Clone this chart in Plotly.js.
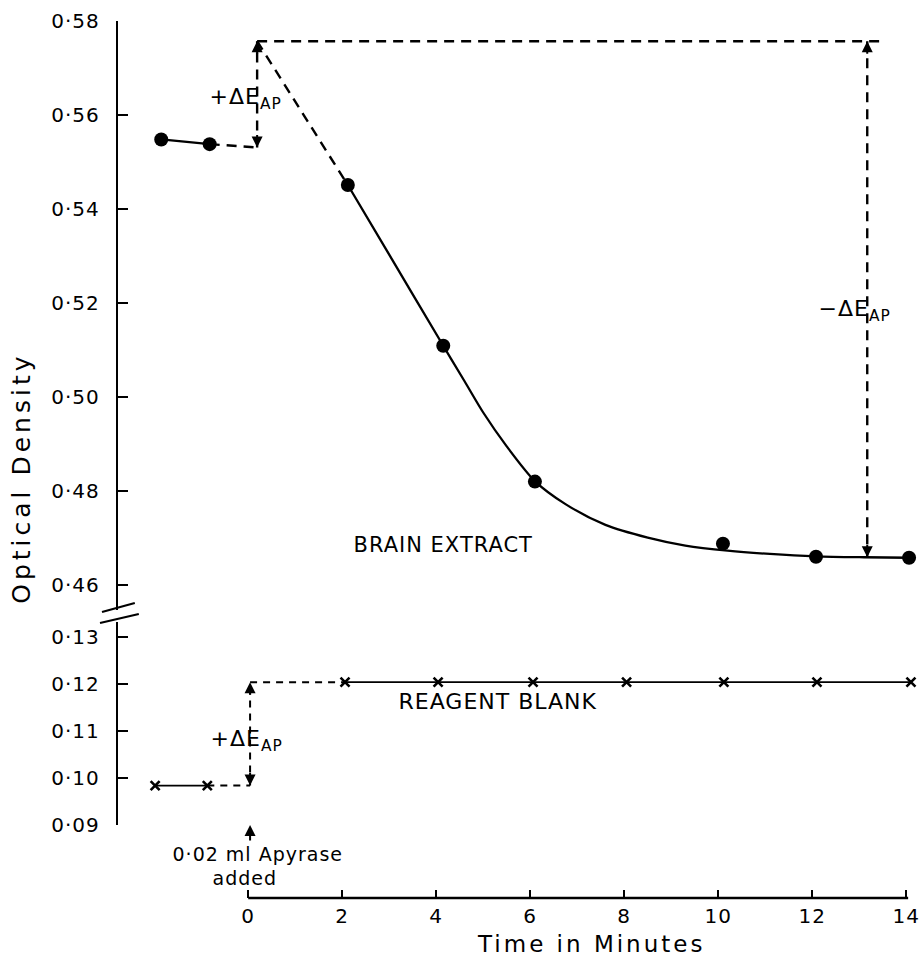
<!DOCTYPE html>
<html>
<head>
<meta charset="utf-8">
<script src="https://cdn.plot.ly/plotly-3.0.1.min.js"></script>
<style>
html,body{margin:0;padding:0;background:#fff;}
#chart{width:923px;height:961px;}
#chart text{letter-spacing:1px;}
</style>
</head>
<body>
<div id="chart"></div>
<script>
// ---- data ----
const brainPreX = [-1.85, -0.82];
const brainPreY = [0.5548, 0.5538];
const brainX = [2.12, 4.15, 6.1, 10.1, 12.08, 14.06];
const brainY = [0.5451, 0.5109, 0.4820, 0.4688, 0.4660, 0.4658];
// hand-drawn fitted curve
const fitX = [2.12, 3.0, 4.15, 4.6, 5.0, 5.5, 6.1, 6.75, 7.6, 8.5, 9.3, 10.2, 11.1, 12.08, 13.1, 14.06];
const fitY = [0.5451, 0.5303, 0.5109, 0.5034, 0.4967, 0.4895, 0.4821, 0.4772, 0.4728, 0.4701, 0.4684, 0.4673, 0.4666, 0.4661, 0.4659, 0.4658];

const reagPreX = [-1.98, -0.87];
const reagPreY = [0.0984, 0.0984];
const reagX = [2.06, 4.04, 6.06, 8.05, 10.12, 12.1, 14.1];
const reagY = [0.1204, 0.1204, 0.1204, 0.1204, 0.1204, 0.1204, 0.1204];

// delta-E construction levels
const addTimeTop = 0.19, addTimeBottom = 0.04, readTime = 13.17, guideEnd = 13.45;
const topBase = 0.5531, topPeak = 0.5757, topPlateau = 0.4659;
const botBase = 0.0984, botStep = 0.1204;

// tick labels
const topTickVals = [0.46, 0.48, 0.50, 0.52, 0.54, 0.56, 0.58];
const topTickText = ['0·46', '0·48', '0·50', '0·52', '0·54', '0·56', '0·58'];
const botTickVals = [0.09, 0.10, 0.11, 0.12, 0.13];
const botTickText = ['0·09', '0·10', '0·11', '0·12', '0·13'];
const xTickVals = [0, 2, 4, 6, 8, 10, 12, 14];
const xTickText = ['0', '2', '4', '6', '8', '10', '12', '14'];

// ---- traces ----
const blk = '#000';
const dashPat = '10px,7px';
const traces = [
  {x: fitX, y: fitY, mode: 'lines', line: {color: blk, width: 2.3, shape: 'spline', smoothing: 0.8}, xaxis: 'x', yaxis: 'y', hoverinfo: 'skip'},
  {x: brainPreX, y: brainPreY, mode: 'lines+markers', line: {color: blk, width: 2.3}, marker: {color: blk, size: 14}, xaxis: 'x', yaxis: 'y'},
  {x: brainX, y: brainY, mode: 'markers', marker: {color: blk, size: 14}, xaxis: 'x', yaxis: 'y'},
  // dashed construction lines, top panel
  {x: [brainPreX[1], addTimeTop, null, addTimeTop, addTimeTop, null, addTimeTop, brainX[0], null, addTimeTop, guideEnd, null, readTime, readTime],
   y: [brainPreY[1], topBase, null, topBase, topPeak, null, topPeak, brainY[0], null, topPeak, topPeak, null, topPeak, topPlateau],
   mode: 'lines', line: {color: blk, width: 2.4, dash: dashPat}, xaxis: 'x', yaxis: 'y', connectgaps: false},
  // reagent blank
  {x: reagPreX, y: reagPreY, mode: 'lines+markers', line: {color: blk, width: 1.8}, marker: {color: blk, size: 9, symbol: 'x-thin', line: {color: blk, width: 2.6}}, xaxis: 'x', yaxis: 'y2'},
  {x: reagX, y: reagY, mode: 'lines+markers', line: {color: blk, width: 1.8}, marker: {color: blk, size: 9, symbol: 'x-thin', line: {color: blk, width: 2.6}}, xaxis: 'x', yaxis: 'y2'},
  {x: [reagPreX[1], addTimeBottom, null, addTimeBottom, addTimeBottom, null, addTimeBottom, reagX[0]],
   y: [reagPreY[1], botBase, null, botBase, botStep, null, botStep, reagY[0]],
   mode: 'lines', line: {color: blk, width: 2, dash: '7px,6px'}, xaxis: 'x', yaxis: 'y2'}
];

const F = 'DejaVu Sans';
function arrow(x, y, xref, yref, ay) {
  return {x: x, y: y, xref: xref, yref: yref, text: '', showarrow: true, arrowhead: 2, arrowsize: 1.1, arrowwidth: 2, arrowcolor: blk, ax: 0, ay: ay};
}
function label(x, y, xref, yref, text, size) {
  return {x: x, y: y, xref: xref, yref: yref, xanchor: 'center', yanchor: 'middle', text: text, showarrow: false, font: {family: F, size: size, color: blk}};
}

const annotations = [
  arrow(addTimeTop, topPeak, 'x', 'y', 14),
  arrow(addTimeTop, topBase, 'x', 'y', -14),
  arrow(readTime, topPeak, 'x', 'y', 14),
  arrow(readTime, topPlateau, 'x', 'y', -14),
  arrow(addTimeBottom, botStep, 'x', 'y2', 14),
  arrow(addTimeBottom, botBase, 'x', 'y2', -14),
  arrow(addTimeBottom, 0.0832, 'x', 'paper', 17),
  label(-0.06, 0.5636, 'x', 'y', '+ΔE<sub>AP</sub>', 22),
  label(12.9, 0.5185, 'x', 'y', '−ΔE<sub>AP</sub>', 22),
  label(4.15, 0.4685, 'x', 'y', 'BRAIN EXTRACT', 21),
  label(5.32, 0.1162, 'x', 'y2', 'REAGENT BLANK', 22),
  label(-0.04, 0.1079, 'x', 'y2', '+ΔE<sub>AP</sub>', 22),
  label(0.2, 0.0500, 'x', 'paper', '0·02 ml Apyrase', 19),
  label(-0.06, 0.0232, 'x', 'paper', 'added', 19),
  label(7.3, -0.0525, 'x', 'paper', '<span style="letter-spacing:3px">Time in Minutes</span>', 23),
  {x: -0.12, y: 0.478, xref: 'paper', yref: 'paper', xanchor: 'center', yanchor: 'middle', text: '<span style="letter-spacing:4px">Optical Density</span>', textangle: -90, showarrow: false, font: {family: F, size: 25, color: blk}}
];

const shapes = [
  {type: 'line', xref: 'x', yref: 'paper', x0: xTickVals[0], x1: xTickVals[xTickVals.length - 1] + 0.04, y0: 0, y1: 0, line: {color: blk, width: 2.3}},
  {type: 'line', xref: 'paper', yref: 'paper', x0: -0.020, x1: 0.021, y0: 0.3261, y1: 0.3364, line: {color: blk, width: 2.2}},
  {type: 'line', xref: 'paper', yref: 'paper', x0: -0.0225, x1: 0.026, y0: 0.3136, y1: 0.3238, line: {color: blk, width: 2.2}}
];

const yCommon = {
  showline: true, linecolor: blk, linewidth: 2.3, ticks: 'inside', ticklen: 10, tickwidth: 2, tickcolor: blk,
  showgrid: false, zeroline: false, anchor: 'x', ticklabelstandoff: 12,
  tickfont: {family: F, size: 20, color: blk}
};

const layout = {
  width: 923, height: 961,
  margin: {l: 118, r: 5, t: 21, b: 63},
  paper_bgcolor: '#fff', plot_bgcolor: '#fff',
  showlegend: false,
  font: {family: F, color: blk},
  xaxis: {
    range: [-2.77, 14.25], anchor: 'free', position: 0, showline: false, ticks: 'inside', ticklen: 8, tickwidth: 2, tickcolor: blk,
    tickvals: xTickVals, ticktext: xTickText, showgrid: false, zeroline: false, ticklabelstandoff: 4,
    tickfont: {family: F, size: 20, color: blk}
  },
  yaxis: Object.assign({}, yCommon, {domain: [0.3284, 1], range: [0.45468, 0.58], tickvals: topTickVals, ticktext: topTickText}),
  yaxis2: Object.assign({}, yCommon, {domain: [0.0832, 0.3147], range: [0.09, 0.13319], tickvals: botTickVals, ticktext: botTickText}),
  annotations: annotations,
  shapes: shapes
};

Plotly.newPlot('chart', traces, layout, {staticPlot: true, displayModeBar: false});
</script>
</body>
</html>
